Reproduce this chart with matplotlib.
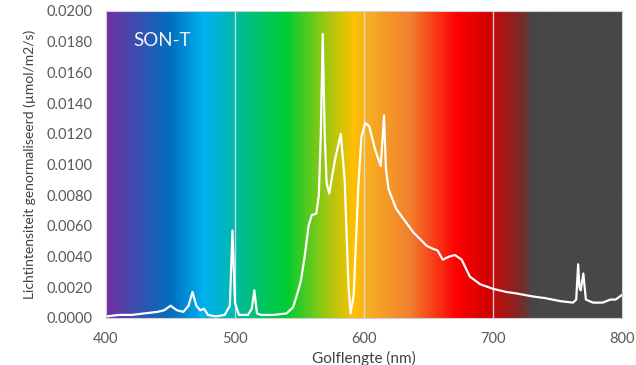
import numpy as np
import matplotlib.pyplot as plt
from matplotlib.colors import LinearSegmentedColormap

# SON-T spectrum
golflengte = [400, 410, 420, 430, 440, 445, 450, 455, 460, 464, 467, 470, 473, 476, 479,
              485, 492, 496, 498, 500, 503, 510, 513, 515, 517, 520, 530, 540, 545, 548,
              551, 554, 557, 559.5, 563, 565, 566.5, 568, 569.5, 571, 573, 577.5, 582, 585,
              588, 589.6, 592, 595.6, 598, 601, 604, 608.5, 613, 615.5, 617, 619, 625, 638,
              648.6, 653.6, 657, 661, 666, 670.5, 675.7, 682, 690, 700, 710, 718, 731, 740,
              752, 762, 764.5, 766, 767, 768, 770, 772, 777.5, 785, 791, 795, 800]
intensiteit = [0.0001, 0.0002, 0.0002, 0.0003, 0.0004, 0.0005, 0.0008, 0.0005, 0.0004, 0.0008,
               0.0017, 0.0008, 0.0005, 0.0006, 0.0002, 0.0001, 0.0002, 0.0008, 0.0057, 0.0010,
               0.0002, 0.0002, 0.0006, 0.0018, 0.0003, 0.0002, 0.0002, 0.0003, 0.0007, 0.0015,
               0.0024, 0.0040, 0.0060, 0.0067, 0.0068, 0.0080, 0.0120, 0.0185, 0.0120, 0.0088,
               0.0081, 0.0103, 0.0120, 0.0090, 0.0020, 0.0003, 0.0015, 0.0086, 0.0118, 0.0127,
               0.0125, 0.0110, 0.0099, 0.0132, 0.0097, 0.0084, 0.0071, 0.0056, 0.0047, 0.0045,
               0.0044, 0.0038, 0.0040, 0.0041, 0.0038, 0.0027, 0.0022, 0.0019, 0.0017, 0.0016,
               0.0014, 0.0013, 0.0011, 0.0010, 0.0012, 0.0035, 0.0020, 0.0018, 0.0029, 0.0012,
               0.0010, 0.0010, 0.0012, 0.0012, 0.0015]

# background colour stops (wavelength, colour)
kleur_nm = [400, 450, 475, 498, 505, 540, 571, 592, 602, 636, 672, 698, 705, 723, 731, 800]
kleuren = ['#7030A0', '#0070C0', '#00B0F0', '#00B8B0', '#00BC90', '#00CC30', '#A0C810',
           '#FFC000', '#F8B020', '#F08030', '#FF0000', '#D00000', '#B81010', '#7A2A2A',
           '#474747', '#474747']

xticks = [400, 500, 600, 700, 800]
yticks = np.arange(0, 0.0201, 0.002)

plt.rcParams['font.family'] = ['Lato', 'DejaVu Sans']

fig = plt.figure(figsize=(6.36, 3.65), dpi=100)
ax = fig.add_axes([0.1667, 0.1288, 0.8113, 0.8412])

stops = [(w - 400) / 400 for w in kleur_nm]
cmap = LinearSegmentedColormap.from_list('spectrum', list(zip(stops, kleuren)))
grad = np.linspace(0, 1, 800).reshape(1, -1)
ax.imshow(grad, cmap=cmap, aspect='auto', extent=[400, 800, 0, 0.02], zorder=0)

for x in [500, 600, 700]:
    ax.axvline(x, color='#dddddd', lw=1.0, alpha=0.9, zorder=1)

ax.plot(golflengte, intensiteit, color='white', lw=1.6, zorder=2)

ax.text(421, 0.0177, 'SON-T', color='#f4f4f4', fontsize=13.5)

ax.set_xlim(400, 800)
ax.set_ylim(0, 0.02)
ax.set_xticks(xticks)
ax.set_yticks(yticks)
ax.set_yticklabels(['%.4f' % v for v in yticks])
ax.tick_params(length=0, labelsize=10.5, colors='#595959')
ax.tick_params(axis='y', pad=10)
ax.tick_params(axis='x', pad=10)
for s in ax.spines.values():
    s.set_color('#d0d0d0')
    s.set_linewidth(0.8)

ax.set_xlabel('Golflengte (nm)', fontsize=11, color='#404040', labelpad=4)
ax.set_ylabel('Lichtintensiteit genormaliseerd (µmol/m2/s)', fontsize=10, color='#404040', labelpad=7)

fig.savefig('out.png', dpi=100)
